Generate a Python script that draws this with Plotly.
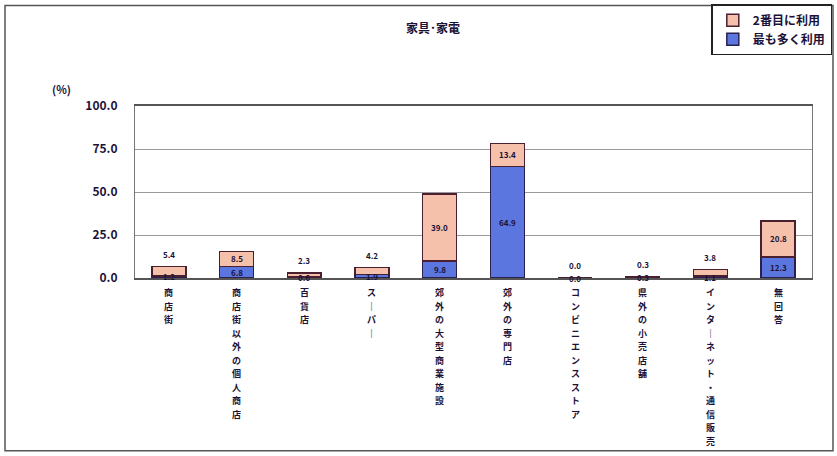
import plotly.graph_objects as go

# Categories (each drawn vertically, one character below the other)
categories = [
    "商店街", "商店街以外の個人商店", "百貨店", "スーパー", "郊外の大型商業施設",
    "郊外の専門店", "コンビニエンスストア", "県外の小売店舗", "インターネット・通信販売", "無回答",
]
most_used = [1.2, 6.8, 0.6, 1.9, 9.8, 64.9, 0.0, 0.3, 1.1, 12.3]     # 最も多く利用
second_used = [5.4, 8.5, 2.3, 4.2, 39.0, 13.4, 0.0, 0.3, 3.8, 20.8]  # 2番目に利用
y_ticks = [0, 25, 50, 75, 100]
Y_MAX = 100

FONT = "Noto Sans CJK JP"
INK = "#1c1238"
BLUE = "#5b76de"
SALMON = "#f6c1aa"
PLOT_H = 172  # plot-area height in px, used to space the vertical characters

fig = go.Figure()
fig.add_bar(x=categories, y=most_used, name="最も多く利用",
            marker=dict(color=BLUE, line=dict(color="#2a2050", width=1.5)), width=0.5)
fig.add_bar(x=categories, y=second_used, name="2番目に利用",
            marker=dict(color=SALMON, line=dict(color="#4a2030", width=1.5)), width=0.5)

# value labels: centred in each segment; a thin upper segment gets its
# label just above the column so both numbers stay readable
annotations = []
for c, a, b in zip(categories, most_used, second_used):
    ya = a / 2
    yb = a + b / 2 if b >= 6 else a + b + 7
    for val, yy in ((a, ya), (b, yb)):
        annotations.append(dict(
            x=c, y=yy / Y_MAX, xref="x", yref="paper", text=f"{val:.1f}",
            showarrow=False, xanchor="center", yanchor="middle",
            font=dict(family=FONT, size=8, color=INK, weight="bold")))

# vertical category labels
step = 13.5 / PLOT_H
for c in categories:
    for i, ch in enumerate(c):
        annotations.append(dict(
            x=c, y=-0.085 - i * step, xref="x", yref="paper",
            text="｜" if ch == "ー" else ch, showarrow=False,
            xanchor="center", yanchor="middle",
            font=dict(family=FONT, size=9, color=INK, weight="bold")))

annotations += [
    dict(x=0.44, y=1.455, xref="paper", yref="paper", text="<b>家具･家電</b>",
         showarrow=False, yanchor="middle",
         font=dict(family=FONT, size=12, color=INK)),
    dict(x=-0.125, y=1.10, xref="paper", yref="paper", text="<b>(%)</b>",
         showarrow=False, xanchor="left", yanchor="middle",
         font=dict(family=FONT, size=11, color=INK)),
]

fig.update_layout(
    width=837, height=456,
    margin=dict(l=135, r=25, t=106, b=178, autoexpand=False),
    barmode="stack", bargap=0.5,
    paper_bgcolor="white", plot_bgcolor="white",
    annotations=annotations,
    legend=dict(x=1.03, y=1.592, xanchor="right", yanchor="top",
                traceorder="reversed", bordercolor="#222", borderwidth=1.5,
                bgcolor="white", itemwidth=30, tracegroupgap=0,
                font=dict(family=FONT, size=12, color=INK, weight="bold")),
    shapes=[dict(type="rect", xref="paper", yref="paper",
                 x0=-0.192, x1=1.031, y0=-1.005, y1=1.585,
                 line=dict(color="#555", width=1.5))],
    showlegend=True,
)
fig.update_xaxes(showticklabels=False, showline=True, linecolor="#555", linewidth=1.5,
                 mirror=True, ticks="", showgrid=False)
fig.update_yaxes(range=[0, Y_MAX], tickvals=y_ticks, tickformat=".1f",
                 showline=True, linecolor="#777", linewidth=1, mirror=True,
                 gridcolor="#9a9a9a", gridwidth=1,
                 ticks="outside", ticklen=14, tickcolor="rgba(0,0,0,0)",
                 tickfont=dict(family=FONT, size=12, color=INK, weight="bold"))

fig.write_html("out.html")
